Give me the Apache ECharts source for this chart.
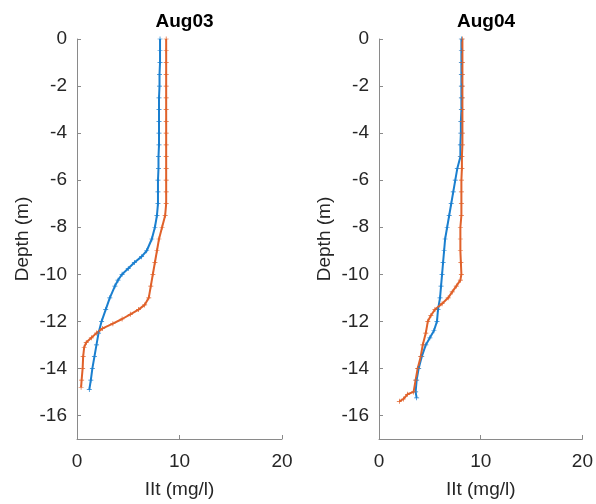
<!DOCTYPE html>
<html>
<head>
<meta charset="utf-8">
<script src="https://cdn.jsdelivr.net/npm/echarts@6/dist/echarts.min.js"></script>
<style>html,body{margin:0;padding:0;background:#fff;}#c{width:596px;height:504px;}</style>
</head>
<body>
<div id="c"></div>
<script>
// Titles / labels
const panelTitles = ['Aug03', 'Aug04'];
const yTickValues = [0, -2, -4, -6, -8, -10, -12, -14, -16];
const xTickValues = [0, 10, 20];

// Aug03 blue
const aug03BlueDepth = [0,-0.5,-1,-1.5,-2,-2.5,-3,-3.5,-4,-4.5,-5,-5.5,-6,-6.5,-7,-7.5,-8,-8.5,-9,-9.25,-9.5,-9.75,-10,-10.25,-10.5,-11,-11.5,-12,-12.5,-13,-13.5,-14,-14.5,-14.9];
const aug03BlueVal   = [8.1,8.1,8.1,8.05,8.05,8.0,8.0,8.0,8.0,8.0,7.95,7.95,7.9,7.9,7.9,7.8,7.6,7.3,6.8,6.3,5.6,5.0,4.4,4.0,3.7,3.2,2.8,2.4,2.1,1.9,1.7,1.5,1.35,1.2];
// Aug03 orange
const aug03OrangeDepth = [0,-0.5,-1,-1.5,-2,-2.5,-3,-3.5,-4,-4.5,-5,-5.5,-6,-6.5,-7,-7.5,-8,-8.5,-9,-9.5,-10,-10.5,-11,-11.3,-11.5,-11.7,-11.9,-12.1,-12.3,-12.5,-12.7,-12.9,-13.1,-13.5,-14,-14.5,-14.8];
const aug03OrangeVal   = [8.7,8.7,8.7,8.7,8.7,8.7,8.7,8.7,8.7,8.7,8.7,8.7,8.7,8.7,8.7,8.6,8.3,8.0,7.8,7.6,7.4,7.2,7.0,6.6,6.0,5.2,4.4,3.5,2.5,1.9,1.4,0.9,0.7,0.6,0.55,0.45,0.4];
// Aug04 blue
const aug04BlueDepth = [0,-0.5,-1,-1.5,-2,-2.5,-3,-3.5,-4,-4.5,-5,-5.5,-6,-6.5,-7,-7.5,-8,-8.5,-9,-9.5,-10,-10.5,-11,-11.5,-12,-12.4,-12.7,-13,-13.5,-14,-14.5,-15,-15.25];
const aug04BlueVal   = [8.1,8.1,8.1,8.1,8.1,8.1,8.1,8.05,8.05,8.0,8.0,7.7,7.5,7.3,7.1,6.9,6.7,6.5,6.4,6.3,6.2,6.1,6.0,5.8,5.7,5.4,5.0,4.6,4.2,3.9,3.7,3.6,3.7];
// Aug04 orange
const aug04OrangeDepth = [0,-0.5,-1,-1.5,-2,-2.5,-3,-3.5,-4,-4.5,-5,-5.5,-6,-6.5,-7,-7.5,-8,-8.5,-9,-9.5,-10,-10.25,-10.5,-10.75,-11,-11.25,-11.5,-11.75,-12,-12.5,-13,-13.5,-14,-14.5,-15,-15.1,-15.3,-15.4];
const aug04OrangeVal   = [8.2,8.2,8.2,8.2,8.2,8.2,8.2,8.2,8.2,8.2,8.15,8.15,8.1,8.1,8.1,8.1,8.0,8.0,8.0,8.05,8.1,8.0,7.6,7.2,6.8,6.2,5.5,5.1,4.8,4.6,4.3,4.1,3.8,3.6,3.4,2.8,2.4,2.0];

const BLUE = '#1a7fcf', ORANGE = '#e0612a';
const FONT = 'Liberation Sans, Arial, sans-serif';
const cross = 'path://M0,4.3H10V5.7H0Z M4.3,0H5.7V10H4.3Z';

function pairs(v, d) { return v.map((x, i) => [x, d[i]]); }

const grids = [
  {left: 77, width: 205, top: 39, bottom: 63},
  {left: 379, width: 204, top: 39, bottom: 63}
];

function xAxis(i) {
  return {
    gridIndex: i, type: 'value', min: 0, max: 20, interval: 10, position: 'bottom',
    name: 'IIt (mg/l)', nameLocation: 'middle', nameGap: 41,
    nameTextStyle: {fontFamily: FONT, fontSize: 19, color: '#262626'},
    axisLine: {show: true, onZero: false, lineStyle: {color: '#8a8a8a', width: 1}},
    axisTick: {show: true, inside: true, length: 4, lineStyle: {color: '#8a8a8a'}},
    axisLabel: {fontFamily: FONT, fontSize: 19, color: '#262626', margin: 13},
    splitLine: {show: false}
  };
}
function yAxis(i) {
  return {
    gridIndex: i, type: 'value', min: -17, max: 0, position: 'left',
    name: 'Depth (m)', nameLocation: 'middle', nameGap: 45,
    nameTextStyle: {fontFamily: FONT, fontSize: 19, color: '#262626'},
    axisLine: {show: true, onZero: false, lineStyle: {color: '#8a8a8a', width: 1}},
    axisTick: {show: true, inside: true, length: 4, customValues: yTickValues, lineStyle: {color: '#8a8a8a'}},
    axisLabel: {fontFamily: FONT, fontSize: 19, color: '#262626', margin: 10, customValues: yTickValues},
    splitLine: {show: false}
  };
}
function line(i, data, color) {
  return {
    type: 'line', xAxisIndex: i, yAxisIndex: i, data: data,
    symbol: cross, symbolSize: 5, showSymbol: true,
    lineStyle: {color: color, width: 2},
    itemStyle: {color: color},
    animation: false, silent: true
  };
}

const chart = echarts.init(document.getElementById('c'));
chart.setOption({
  backgroundColor: '#fff',
  animation: false,
  title: panelTitles.map((t, i) => ({
    text: t, left: grids[i].left + grids[i].width / 2, top: 7, textAlign: 'center',
    textStyle: {fontFamily: FONT, fontSize: 19, fontWeight: 'bold', color: '#000'}
  })),
  grid: grids,
  xAxis: [xAxis(0), xAxis(1)],
  yAxis: [yAxis(0), yAxis(1)],
  series: [
    line(0, pairs(aug03BlueVal, aug03BlueDepth), BLUE),
    line(0, pairs(aug03OrangeVal, aug03OrangeDepth), ORANGE),
    line(1, pairs(aug04BlueVal, aug04BlueDepth), BLUE),
    line(1, pairs(aug04OrangeVal, aug04OrangeDepth), ORANGE)
  ]
});
</script>
</body>
</html>
